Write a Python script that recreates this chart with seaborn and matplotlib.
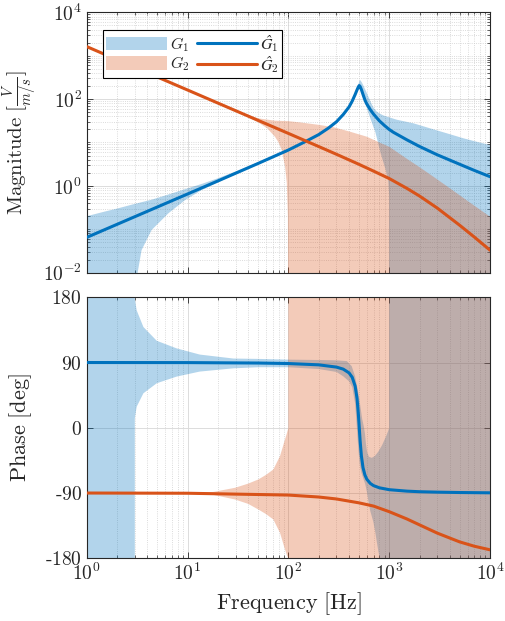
import matplotlib
matplotlib.use("Agg")
import numpy as np
import pandas as pd
import matplotlib.pyplot as plt
import seaborn as sns
from matplotlib.ticker import FixedLocator, FuncFormatter, NullFormatter, LogLocator, FixedFormatter
from matplotlib.patches import Patch
from matplotlib.lines import Line2D

# ---------------- data ----------------
# G1 nominal magnitude
g1_mag_f = [1, 2, 5, 10, 20, 50, 100, 150, 200, 250, 300, 350, 400, 430, 460, 480, 495, 505,
            515, 530, 550, 577, 600, 650, 700, 753, 800, 900, 1000, 1100, 1500, 2000, 3000, 5000, 7000, 10000]
g1_mag = [0.065, 0.13, 0.325, 0.65, 1.3, 3.28, 6.7, 10.7, 15.2, 21.5, 30, 44, 66, 90, 128, 163, 192, 205,
          195, 166, 128, 93, 77, 57, 45, 37, 31.5, 24.5, 20, 17.2, 11.5, 8.1, 5.2, 3.15, 2.27, 1.63]
# G2 nominal magnitude
g2_mag_f = [1, 2, 5, 10, 20, 50, 100, 200, 300, 500, 700, 1000, 1500, 2000, 3000, 5000, 7000, 10000]
g2_mag = [1620, 810, 324, 162, 81, 32.4, 16.2, 8.07, 5.35, 3.15, 2.19, 1.48, 0.876, 0.584, 0.308, 0.124, 0.066, 0.033]

# G1 magnitude uncertainty band
g1_up_f = [1, 1.5, 2, 3, 4.4, 6, 9.45, 14, 20, 30, 50, 100, 200, 300, 400, 450, 480, 500, 512, 520, 534, 555,
           577, 600, 650, 697, 750, 812, 876, 1000, 1188, 1738, 2546, 3725, 5450, 7500, 10000]
g1_up = [0.20, 0.255, 0.30, 0.385, 0.48, 0.60, 0.84, 1.12, 1.5, 2.15, 3.5, 7.0, 15.9, 31.5, 70, 118, 175, 235, 275, 268, 245, 205,
         168, 138, 90, 64, 52, 46, 42, 38, 33.5, 27.7, 21.2, 16.3, 12.5, 10.3, 8.75]
g1_lo_f = [1, 3.1, 3.2, 3.5, 4.4, 6.45, 9.45, 13.8, 20, 30, 50, 100, 200, 300, 400, 450, 480, 495, 505, 515, 534, 555,
           577, 600, 647, 697, 728, 770, 812, 860, 911, 980, 1000, 1000, 10000]
g1_lo = [1e-5, 1e-5, 0.01, 0.033, 0.096, 0.233, 0.47, 0.8, 1.2, 1.85, 3.1, 6.4, 14.5, 28.5, 62, 100, 152, 178, 190, 180, 150, 112,
         85, 62, 37, 23, 17.5, 10.5, 6.3, 4.0, 2.6, 1.3, 0.6, 1e-5, 1e-5]

# G2 magnitude uncertainty band
g2_up_f = [1, 10, 20, 30, 40, 50.4, 73.6, 100, 131, 200, 280, 400, 600, 800, 1000, 1500, 2000, 2742, 4000, 6000, 10000]
g2_up = [1625, 163, 82, 55.5, 43, 36, 31.8, 31, 29, 25.5, 22.5, 18, 13.6, 10, 8.0, 4.2, 2.7, 1.63, 0.88, 0.45, 0.195]
g2_lo_f = [1, 10, 20, 30, 40, 50.4, 62, 73.6, 80, 86, 92.7, 96.5, 99, 100, 10000]
g2_lo = [1615, 161, 80, 52, 38, 29, 21, 13.6, 10, 6.7, 2.8, 1.15, 0.2, 1e-5, 1e-5]

# G1 nominal phase [deg]
g1_ph_f = [1, 10, 50, 100, 200, 300, 350, 400, 430, 460, 480, 495, 505, 515, 530, 550, 575, 600,
           650, 700, 800, 1000, 1500, 2000, 3000, 5000, 10000]
g1_ph = [90, 89.9, 89.3, 88.6, 86.8, 83.7, 80.9, 75.7, 69.6, 57.3, 40.4, 18.3, 0, -18.1, -38.7, -54.9, -65.2, -70.9,
         -76.8, -79.8, -82.8, -85.4, -87.4, -88.2, -88.8, -89.3, -89.7]
# G2 nominal phase [deg]
g2_ph_f = [1, 10, 100, 200, 300, 500, 700, 1000, 1500, 2000, 3000, 5000, 7000, 10000]
g2_ph = [-90.0, -90.3, -92.8, -95.5, -98.2, -103.5, -108.0, -115.7, -125.8, -133.9, -145.3, -157.4, -163.4, -168.3]

# G1 phase uncertainty band
g1p_up_f = [1, 3, 3, 3.13, 3.65, 4.95, 7.8, 13.2, 28.5, 50, 100, 200, 300, 380, 425, 459, 484, 503, 520, 540,
            560, 575, 588, 605, 630, 672, 720, 780, 850, 930, 980, 1000, 1000, 10000]
g1p_up = [180, 180, 178, 162, 139, 120, 109.5, 101, 95.5, 95, 94, 93.5, 93, 92, 85, 71, 55, 42, 28, 12,
          2, -8, -22, -34, -40, -41.5, -39, -33, -24, -12, -4, 0, 180, 180]
g1p_lo_f = [1, 3, 3, 3.13, 3.65, 4.95, 7.8, 13.2, 28.5, 50, 100, 200, 300, 350, 400, 430, 460, 480, 495, 510,
            530, 560, 577, 600, 622, 650, 697, 730, 753, 780, 808, 10000]
g1p_lo = [-180, -180, 13, 29, 47.6, 61.4, 70.6, 77.5, 82, 83.5, 83.5, 81, 77, 71, 64, 56, 33, -3, -30, -50,
          -62, -72, -77, -88, -101, -115, -130, -145, -157, -170, -180, -180]

# G2 phase uncertainty band
g2p_f = [1, 10, 18, 29.6, 40, 50.4, 60, 71, 82.7, 92.7, 97, 100, 100, 10000]
g2p_up = [-90.0, -89.5, -88.5, -82.8, -77, -71.3, -65, -57.5, -39, -16, -7, 0, 180, 180]
g2p_lo = [-90.1, -90.8, -92.5, -98.9, -105, -112.7, -119, -126.5, -145, -168, -176, -180, -180, -180]

labels = [r'$G_1$', r'$G_2$', r'$\mathit{Ĝ}_1$', r'$\mathit{Ĝ}_2$']
xticks = [1, 10, 100, 1000, 10000]
mag_ticks = [1e-2, 1, 1e2, 1e4]
ph_ticks = [-180, -90, 0, 90, 180]
ph_labels = [r'$\text{-}180$', r'$\text{-}90$', '$0$', '$90$', '$180$']

# ---------------- style ----------------
sns.set_style('ticks')
plt.rcParams['font.family'] = ['DejaVu Serif']
plt.rcParams['mathtext.fontset'] = 'cm'

C1 = '#0072BD'
C2 = '#D95319'
ALPHA = 0.3
LW = 2.2

fig = plt.figure(figsize=(5.05, 6.21), dpi=100)
ax1 = fig.add_axes([0.1717, 0.5609, 0.7986, 0.4193])
ax2 = fig.add_axes([0.1717, 0.1010, 0.7986, 0.4203])


def band(ax, fu, u, fl, l, color):
    xs = np.r_[np.asarray(fu, float), np.asarray(fl, float)[::-1]]
    ys = np.r_[np.asarray(u, float), np.asarray(l, float)[::-1]]
    ax.fill(xs, ys, color=color, alpha=ALPHA, lw=0, zorder=1)


for ax in (ax1, ax2):
    ax.set_xscale('log')
ax1.set_yscale('log')

# bands
band(ax1, g1_up_f, g1_up, g1_lo_f, g1_lo, C1)
band(ax1, g2_up_f, g2_up, g2_lo_f, g2_lo, C2)
band(ax2, g1p_up_f, g1p_up, g1p_lo_f, g1p_lo, C1)
band(ax2, g2p_f, g2p_up, g2p_f, g2p_lo, C2)

# nominal lines
sns.lineplot(x=g1_mag_f, y=g1_mag, ax=ax1, color=C1, linewidth=LW, legend=False, zorder=3)
sns.lineplot(x=g2_mag_f, y=g2_mag, ax=ax1, color=C2, linewidth=LW, legend=False, zorder=3)
sns.lineplot(x=g1_ph_f, y=g1_ph, ax=ax2, color=C1, linewidth=LW, legend=False, zorder=3)
sns.lineplot(x=g2_ph_f, y=g2_ph, ax=ax2, color=C2, linewidth=LW, legend=False, zorder=3)

dec_fmt = FuncFormatter(lambda v, p: r'$10^{%d}$' % int(round(np.log10(v))))

for ax in (ax1, ax2):
    ax.set_xlim(1, 1e4)
    ax.xaxis.set_major_locator(FixedLocator(xticks))
    ax.xaxis.set_minor_locator(LogLocator(base=10, subs=np.arange(2, 10)))
    ax.xaxis.set_minor_formatter(NullFormatter())
    ax.set_axisbelow(True)
    ax.tick_params(which='both', direction='in', top=True, right=True, colors='#262626')
    ax.tick_params(which='major', length=4, width=0.6, labelsize=14)
    ax.tick_params(which='minor', length=2, width=0.5)
    for s in ax.spines.values():
        s.set_color('#262626')
        s.set_linewidth(0.8)
    ax.grid(which='major', color='#dcdcdc', lw=0.7, ls='-')
    ax.xaxis.grid(which='minor', color='#cfcfcf', lw=0.6, ls=':')

ax1.set_ylim(1e-2, 1e4)
ax1.yaxis.set_major_locator(FixedLocator(mag_ticks))
ax1.yaxis.set_major_formatter(dec_fmt)
ax1.yaxis.set_minor_locator(LogLocator(base=10, subs=np.arange(1, 10), numticks=30))
ax1.yaxis.set_minor_formatter(NullFormatter())
ax1.yaxis.grid(which='minor', color='#cfcfcf', lw=0.6, ls=':')
ax1.xaxis.set_major_formatter(NullFormatter())

ax2.set_ylim(-180, 180)
ax2.yaxis.set_major_locator(FixedLocator(ph_ticks))
ax2.yaxis.set_major_formatter(FixedFormatter(ph_labels))
ax2.xaxis.set_major_formatter(dec_fmt)

ax1.set_ylabel(r'$\mathrm{Magnitude}\ [\frac{V}{m/s}]$', fontsize=15)
ax2.set_ylabel(r'$\mathrm{Phase\ [deg]}$', fontsize=16)
ax1.yaxis.set_label_coords(-0.117, 0.5)
ax2.yaxis.set_label_coords(-0.13, 0.5)
ax2.set_xlabel(r'$\mathrm{Frequency\ [Hz]}$', fontsize=16, labelpad=4)
ax1.set_xlabel('')

handles = [Patch(facecolor=C1, alpha=ALPHA, edgecolor='none'),
           Patch(facecolor=C2, alpha=ALPHA, edgecolor='none'),
           Line2D([], [], color=C1, lw=LW),
           Line2D([], [], color=C2, lw=LW)]
leg = ax1.legend(handles, labels, ncol=2, loc='upper left', bbox_to_anchor=(0.0404, 0.932),
                 frameon=True, fancybox=False, edgecolor='black', framealpha=1, fontsize=11.5,
                 handlelength=3.8, handleheight=0.9, handletextpad=0.2, columnspacing=0.45,
                 borderaxespad=0, borderpad=0.18, labelspacing=0.06)
leg.get_frame().set_linewidth(0.8)

fig.savefig('out.png', dpi=100)
